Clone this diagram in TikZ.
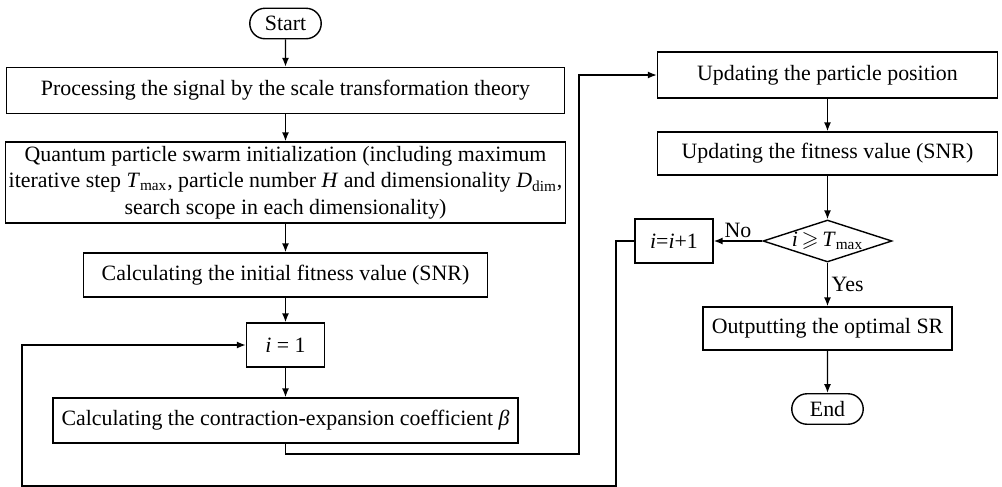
\documentclass[tikz,border=0pt]{standalone}
\usepackage{amssymb}
\usepackage{fontspec}
\setmainfont{Liberation Serif}
\usepackage{tikz}
\usetikzlibrary{arrows.meta,positioning,shapes.geometric,shapes.misc}
\tikzset{
  boite/.style={draw,line width=0.8pt,align=center,inner sep=2pt},
  fleche/.style={-{Latex[length=1.8mm,width=1.4mm]},line width=0.8pt},
}

\begin{document}
\begin{tikzpicture}[x=0.02cm,y=-0.02cm,font=\fontsize{12.45}{15.2}\selectfont,
    fin/.style={boite,rounded rectangle,minimum width=1.57cm,minimum height=0.61cm},
    test/.style={boite,diamond,aspect=3,inner sep=0pt,minimum width=2.58cm,minimum height=0.84cm}]
  \useasboundingbox (0,0) rectangle (1002,487);
  % colonne de gauche
  \node[fin] (start) at (285.5,23.5) {Start};
  \node[boite,minimum width=11.16cm,minimum height=0.92cm] (proc) at (285.5,90.5) {Processing the signal by the scale transformation theory};
  \node[boite,minimum width=11.16cm,minimum height=1.62cm] (init) at (285.5,182.5) {Quantum particle swarm initialization (including maximum\\ iterative step \textit{T}\textsubscript{max}, particle number \textit{H} and dimensionality \textit{D}\textsubscript{dim},\\ search scope in each dimensionality)};
  \node[boite,minimum width=8.08cm,minimum height=0.88cm] (fit) at (285.5,275) {Calculating the initial fitness value (SNR)};
  \node[boite,minimum width=1.56cm,minimum height=0.88cm] (ione) at (285.5,345) {\textit{i} = 1};
  \node[boite,minimum width=9.3cm,minimum height=0.9cm] (beta) at (285.5,420.5) {Calculating the contraction-expansion coefficient \textit{β}};
  % colonne de droite
  \node[boite,minimum width=6.8cm,minimum height=0.92cm] (upd) at (827.5,75) {Updating the particle position};
  \node[boite,minimum width=6.8cm,minimum height=0.86cm] (updfit) at (827.5,153.5) {Updating the fitness value (SNR)};
  \node[test] (cond) at (827.5,241) {\textit{i}\,$\geqslant$\,\textit{T}\textsubscript{max}};
  \node[boite,minimum width=1.56cm,minimum height=0.88cm] (inc) at (674,241) {\textit{i}=\textit{i}+1};
  \node[boite,minimum width=4.98cm,minimum height=0.86cm] (out) at (827.5,328.5) {Outputting the optimal SR};
  \node[fin] (stop) at (827.5,409) {End};
  \coordinate (r1) at (579,454);
  \coordinate (l1) at (616,486);
  \coordinate (l2) at (22,486);
  % liaisons
  \draw[fleche] (start) -- (proc);
  \draw[fleche] (proc) -- (init);
  \draw[fleche] (init) -- (fit);
  \draw[fleche] (fit) -- (ione);
  \draw[fleche] (ione) -- (beta);
  \draw[fleche] (beta.south) -- (beta.south |- r1) -- (r1) |- (upd.west);
  \draw[fleche] (upd) -- (updfit);
  \draw[fleche] (updfit) -- (cond);
  \draw[fleche] (cond) -- node[right,inner sep=2pt]{Yes} (out);
  \draw[fleche] (out) -- (stop);
  \draw[fleche] (cond.west) -- node[above,inner sep=1.5pt]{No} (inc.east);
  \draw[fleche] (inc.west) -| (l1) -- (l2) |- (ione.west);
\end{tikzpicture}
\end{document}
